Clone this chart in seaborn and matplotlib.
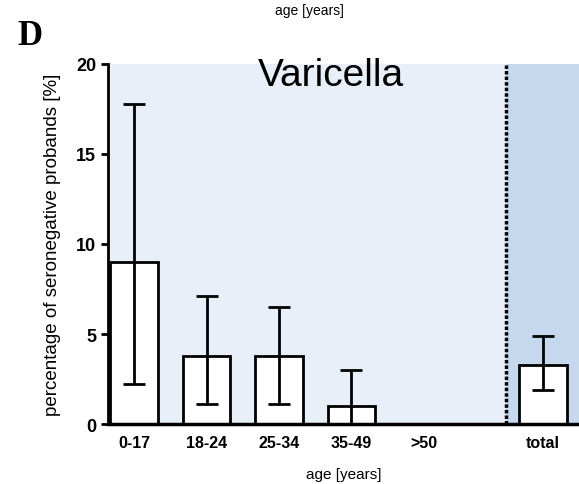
import numpy as np
import pandas as pd
import seaborn as sns
import matplotlib.pyplot as plt

# values
groups = ["0-17", "18-24", "25-34", "35-49", ">50", "total"]
positions = [0, 1, 2, 3, 4, 5.64]
pct = [9.0, 3.8, 3.8, 1.0, 0.0, 3.3]
ci_low = [2.2, 1.1, 1.1, 0.0, 0.0, 1.9]
ci_high = [17.8, 7.1, 6.5, 3.0, 0.0, 4.9]

sns.set_style("ticks")
plt.rcParams["font.family"] = ["Liberation Sans", "DejaVu Sans"]
plt.rcParams.update({"text.color": "black", "axes.labelcolor": "black",
                     "xtick.color": "black", "ytick.color": "black",
                     "axes.edgecolor": "black"})

df = pd.DataFrame({"pos": positions, "pct": pct, "group": groups})

fig = plt.figure(figsize=(5.79, 4.85), dpi=100)
ax = fig.add_axes([0.1865, 0.1237, 0.8135, 0.7423])

ax.axvspan(-0.36, 5.13, color="#e8eff8", zorder=0, lw=0)
ax.axvspan(5.13, 6.14, color="#c6d8ee", zorder=0, lw=0)
ax.axvline(5.13, color="black", lw=2.5, ls=(0, (1, 0.6)), zorder=1)

sns.barplot(data=df, x="pos", y="pct", native_scale=True, width=0.66,
            color="white", edgecolor="black", linewidth=2, errorbar=None,
            ax=ax, zorder=2)

# only draw error bars where there is an interval
mask = [h > 0 for h in ci_high]
xs = [p for p, m in zip(positions, mask) if m]
ys = [v for v, m in zip(pct, mask) if m]
lo = [v - l for v, l, m in zip(pct, ci_low, mask) if m]
hi = [h - v for v, h, m in zip(pct, ci_high, mask) if m]
ax.errorbar(xs, ys, yerr=[lo, hi], fmt="none", ecolor="black",
            elinewidth=2, capsize=8, capthick=2, zorder=3)

ax.set_xlim(-0.36, 6.14)
ax.set_ylim(0, 20)
ax.set_yticks([0, 5, 10, 15, 20])
ax.set_xticks(positions)
ax.set_xticklabels(groups)
ax.tick_params(axis="x", length=0, pad=8, labelsize=11.5)
ax.tick_params(axis="y", length=5, width=2, labelsize=13)
for lab in ax.get_yticklabels():
    lab.set_fontweight("bold")
for lab in ax.get_xticklabels():
    lab.set_fontweight("semibold")
for sp in ["top", "right"]:
    ax.spines[sp].set_visible(False)
ax.spines["left"].set_linewidth(2)
ax.spines["bottom"].set_linewidth(2.5)

ax.set_xlabel("age [years]", fontsize=11, labelpad=12)
ax.set_ylabel("percentage of seronegative probands [%]", fontsize=13.5,
              labelpad=11)

ax.text(2.72, 19.4, "Varicella", ha="center", va="center", fontsize=28)
fig.text(0.535, 0.978, "age [years]", ha="center", va="center", fontsize=10)
fig.text(0.03, 0.925, "D", ha="left", va="center", fontsize=25,
         fontweight="bold", family="Liberation Serif")

plt.savefig("out.png", dpi=100)
